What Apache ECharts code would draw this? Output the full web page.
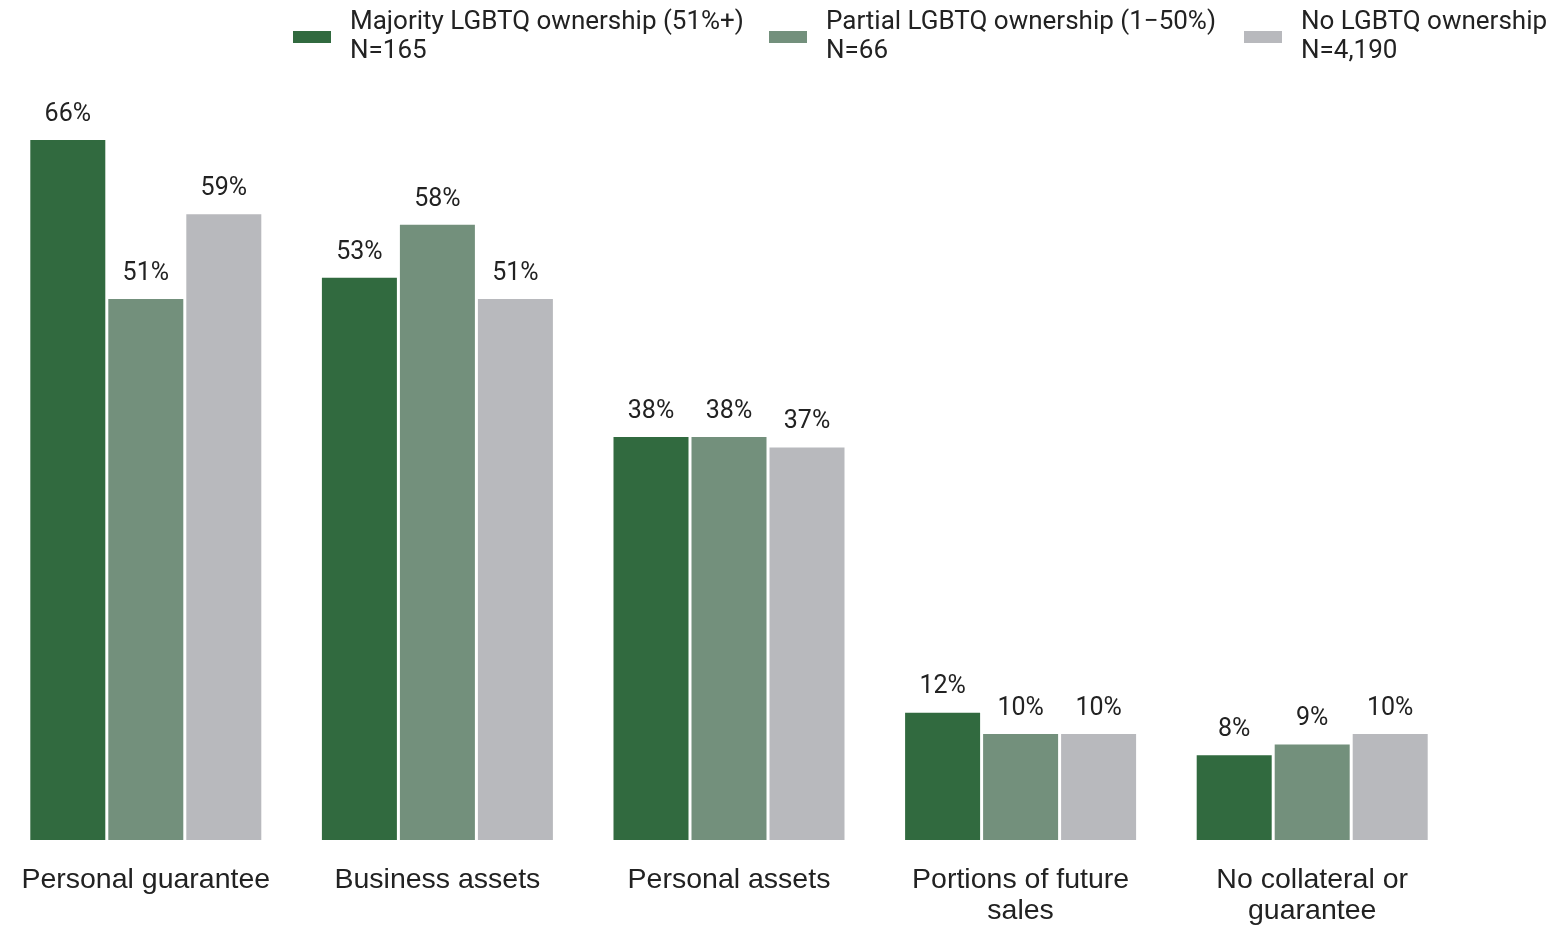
<!DOCTYPE html>
<html>
<head>
<meta charset="utf-8">
<script src="https://cdn.jsdelivr.net/npm/echarts@6/dist/echarts.min.js"></script>
<style>
  html, body { margin: 0; padding: 0; background: #fff; }
  #chart { width: 1563px; height: 927px; }
</style>
</head>
<body>
<div id="chart"></div>
<script>
const categories = ['Personal guarantee', 'Business assets', 'Personal assets', 'Portions of future\nsales', 'No collateral or\nguarantee'];
const seriesNames = ['Majority LGBTQ ownership (51%+)', 'Partial LGBTQ ownership (1\u221250%)', 'No LGBTQ ownership'];
const sampleSizes = ['165', '66', '4,190'];
const majority = [66, 53, 38, 12, 8];
const partial = [51, 58, 38, 10, 9];
const noOwnership = [59, 51, 37, 10, 10];

const colors = ['#316a3f', '#73907c', '#b8b9bd'];
const values = [majority, partial, noOwnership];
const legendLeft = [288, 764, 1239];

const chart = echarts.init(document.getElementById('chart'));

const series = seriesNames.map((name, i) => ({
  name: name,
  type: 'bar',
  data: values[i],
  barWidth: 75,
  barGap: '4%',
  itemStyle: { color: colors[i] },
  label: {
    show: true,
    position: 'top',
    distance: 13,
    formatter: '{c}%',
    fontFamily: 'Roboto',
    fontSize: 25,
    color: '#222'
  }
}));

// one legend per series so each sits where the reference puts it
const legends = seriesNames.map((name, i) => ({
  data: [name],
  left: legendLeft[i],
  top: 3,
  itemWidth: 38,
  itemHeight: 12,
  icon: 'rect',
  formatter: n => n + '\nN=' + sampleSizes[i],
  textStyle: {
    fontFamily: 'Roboto',
    fontSize: 26,
    lineHeight: 29,
    color: '#222',
    padding: [0, 0, 0, 14]
  }
}));

chart.setOption({
  animation: false,
  legend: legends,
  grid: { left: -2, width: 1460, top: 97.5, bottom: 85 },
  xAxis: {
    type: 'category',
    data: categories,
    axisLine: { show: false },
    axisTick: { show: false },
    axisLabel: {
      margin: 25,
      fontFamily: 'Liberation Sans',
      fontSize: 28.5,
      lineHeight: 31,
      color: '#222',
      interval: 0
    }
  },
  yAxis: {
    type: 'value',
    min: 0,
    max: 70,
    show: false
  },
  series: series
});
</script>
</body>
</html>
